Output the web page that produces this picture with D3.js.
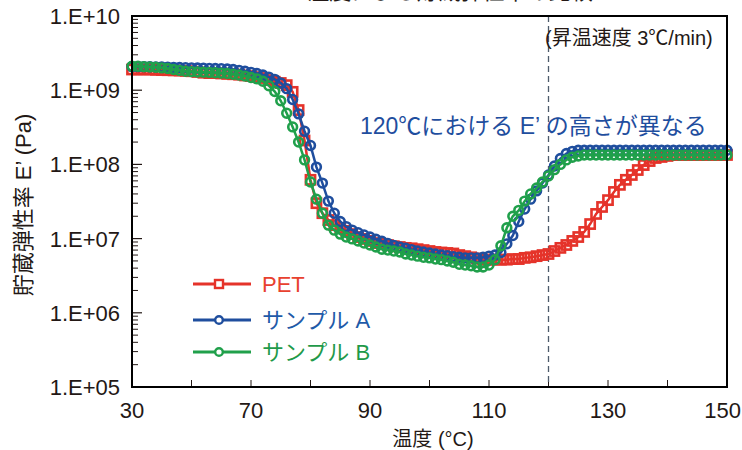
<!DOCTYPE html>
<html><head><meta charset="utf-8">
<script src="https://cdn.jsdelivr.net/npm/d3@7"></script>
<style>
html,body{margin:0;padding:0;background:#fff;}
svg{display:block;font-family:"Liberation Sans","Noto Sans CJK JP",sans-serif;}
</style></head><body>
<svg id="c" width="742" height="450"></svg>
<script>
// ---- data ----
const temps = [30,32,34,36,38,40,42,44,46,48,50,52,54,56,58,60,62,64,66,68,
  70,71,72,73,74,75,76,77,78,79,80,81,82,83,84,85,86,87,88,89,
  90,91,92,93,94,95,96,97,98,99,100,101,102,103,104,105,106,107,108,109,
  110,111,112,113,114,115,116,117,118,119,120,121,122,123,124,125,126,127,128,129,
  130,131,132,133,134,135,136,137,138,139,140,141,142,143,144,145,146,147,148,149,150];
const petValues = [1.9e9,1.9e9,1.9e9,1.9e9,1.88e9,1.87e9,1.86e9,1.85e9,1.84e9,1.82e9,1.8e9,1.76e9,1.72e9,1.7e9,1.7e9,1.68e9,1.66e9,1.64e9,1.62e9,1.58e9,
  1.55e9,1.5e9,1.46e9,1.37e9,1.3e9,1.25e9,1.17e9,9.5e8,5.4e8,2.1e8,
  6.2e7,3.0e7,2.2e7,1.78e7,1.52e7,1.39e7,1.27e7,1.15e7,1.05e7,9.9e6,
  9.3e6,8.7e6,8.5e6,8.2e6,7.9e6,7.7e6,7.5e6,7.4e6,7.2e6,7.0e6,
  6.8e6,6.6e6,6.5e6,6.4e6,6.3e6,6.0e6,5.8e6,5.6e6,5.4e6,5.2e6,
  5.2e6,5.2e6,5.2e6,5.2e6,5.3e6,5.3e6,5.5e6,5.6e6,5.8e6,6.0e6,
  6.2e6,6.8e6,7.5e6,8.2e6,9.3e6,1.05e7,1.23e7,1.57e7,2.15e7,2.67e7,
  3.3e7,4.25e7,5.3e7,6.2e7,7.2e7,8.4e7,9.8e7,1.11e8,1.22e8,1.26e8,
  1.3e8,1.34e8,1.34e8,1.34e8,1.34e8,1.34e8,1.34e8,1.34e8,1.34e8,1.34e8,1.34e8];
const sampleAValues = [2.08e9,2.08e9,2.08e9,2.07e9,2.06e9,2.05e9,2.04e9,2.03e9,2.02e9,2.01e9,2.0e9,1.99e9,1.98e9,1.97e9,1.96e9,1.95e9,1.93e9,1.9e9,1.85e9,1.8e9,
  1.74e9,1.68e9,1.6e9,1.5e9,1.4e9,1.25e9,1.05e9,7.5e8,4.8e8,2.8e8,
  1.8e8,9.2e7,5.6e7,3.2e7,2.2e7,1.7e7,1.45e7,1.3e7,1.2e7,1.12e7,
  1.05e7,9.8e6,9.2e6,8.6e6,8.1e6,7.7e6,7.4e6,7.1e6,6.8e6,6.6e6,
  6.4e6,6.2e6,6.0e6,5.9e6,5.7e6,5.6e6,5.5e6,5.5e6,5.5e6,5.6e6,
  5.8e6,6.0e6,6.5e6,8.5e6,1.1e7,1.7e7,2.5e7,3.4e7,4.4e7,5.6e7,
  7.2e7,9.5e7,1.2e8,1.4e8,1.5e8,1.55e8,1.55e8,1.55e8,1.55e8,1.55e8,
  1.55e8,1.55e8,1.55e8,1.55e8,1.55e8,1.55e8,1.55e8,1.55e8,1.55e8,1.55e8,
  1.55e8,1.55e8,1.55e8,1.55e8,1.55e8,1.55e8,1.55e8,1.55e8,1.55e8,1.55e8,1.55e8];
const sampleBValues = [2.1e9,2.1e9,2.08e9,2.06e9,2.04e9,2.0e9,1.96e9,1.9e9,1.85e9,1.8e9,1.78e9,1.76e9,1.75e9,1.74e9,1.72e9,1.7e9,1.68e9,1.64e9,1.6e9,1.55e9,
  1.48e9,1.42e9,1.32e9,1.15e9,9.6e8,7.2e8,4.9e8,3.2e8,2.0e8,1.15e8,
  5.8e7,3.4e7,2.2e7,1.52e7,1.3e7,1.15e7,1.05e7,9.9e6,9.3e6,8.7e6,
  8.2e6,7.7e6,7.2e6,7.0e6,6.8e6,6.6e6,6.2e6,6.0e6,5.8e6,5.6e6,
  5.5e6,5.3e6,5.2e6,5.0e6,4.8e6,4.5e6,4.4e6,4.3e6,4.15e6,4.15e6,
  4.4e6,5.2e6,8.0e6,1.4e7,2.0e7,2.4e7,3.2e7,4.0e7,4.8e7,5.8e7,
  7.0e7,8.5e7,1.0e8,1.15e8,1.25e8,1.3e8,1.34e8,1.34e8,1.34e8,1.34e8,
  1.34e8,1.34e8,1.34e8,1.34e8,1.34e8,1.34e8,1.34e8,1.34e8,1.34e8,1.34e8,
  1.34e8,1.34e8,1.34e8,1.34e8,1.34e8,1.34e8,1.34e8,1.34e8,1.34e8,1.34e8,1.34e8];
const seriesNames = ["PET","サンプル A","サンプル B"];
const xTickValues = [30,50,70,80,90,100,110,120,130,140,150];
const xTickLabels = ["30","","70","","90","","110","","130","","150"];
const yDecades = [5,6,7,8,9,10];
const markerLine = 120;

// ---- layout ----
const L=132,R=727,T=16,B=387;
const colors = {red:"#e5332a", blue:"#1f4e9e", green:"#20a04b"};
const svg = d3.select("#c");
const x = d3.scaleLinear().domain([30,70,150]).range([L,L+2*59.5,R]);
const y = d3.scaleLog().domain([1e5,1e10]).range([B,T]);

// clipped title at top
svg.append("text").attr("x",450).attr("y",-1.5).attr("text-anchor","middle")
  .attr("font-size",22).attr("font-family","Noto Sans CJK JP").attr("fill","#231815")
  .text("温度による貯蔵弾性率の比較");

// y ticks (inside)
const minor=[];
yDecades.slice(0,-1).forEach(k=>{for(let m=2;m<10;m++) minor.push(m*Math.pow(10,k));});
svg.append("g").selectAll("line.mn").data(minor).join("line")
  .attr("x1",L).attr("x2",L+6).attr("y1",d=>y(d)).attr("y2",d=>y(d))
  .attr("stroke","#231815").attr("stroke-width",1);
svg.append("g").selectAll("line.mj").data(yDecades).join("line")
  .attr("x1",L).attr("x2",L+10).attr("y1",d=>y(Math.pow(10,d))).attr("y2",d=>y(Math.pow(10,d)))
  .attr("stroke","#231815").attr("stroke-width",1.2);
svg.append("g").selectAll("text").data(yDecades).join("text")
  .attr("x",120).attr("y",d=>y(Math.pow(10,d))).attr("dy","0.36em").attr("text-anchor","end")
  .attr("font-size",22).attr("fill","#231815")
  .text(d=>"1.E+"+String(d).padStart(2,"0"));

// x ticks (inside)
svg.append("g").selectAll("line").data(xTickValues).join("line")
  .attr("x1",d=>x(d)).attr("x2",d=>x(d)).attr("y1",B).attr("y2",B-7)
  .attr("stroke","#231815").attr("stroke-width",1);
svg.append("g").selectAll("text").data(xTickValues).join("text")
  .attr("x",d=>d===150 ? 741 : x(d)).attr("y",418)
  .attr("text-anchor",d=>d===150 ? "end" : "middle")
  .attr("font-size",22).attr("fill","#231815")
  .text((d,i)=>xTickLabels[i]);

// axis titles
svg.append("text").attr("x",433).attr("y",446).attr("text-anchor","middle")
  .attr("font-size",20).attr("fill","#231815").text("温度 (°C)");
svg.append("text").attr("transform","translate(31,205) rotate(-90)").attr("text-anchor","middle")
  .attr("font-size",22).attr("fill","#231815").text("貯蔵弾性率 E’ (Pa)");

// dashed marker line at 120
svg.append("line").attr("x1",x(markerLine)).attr("x2",x(markerLine)).attr("y1",T).attr("y2",B)
  .attr("stroke","#4d5a6b").attr("stroke-width",1.3).attr("stroke-dasharray","6,4");

// series
const data = temps.map((t,i)=>({t, pet:petValues[i], a:sampleAValues[i], b:sampleBValues[i]}));
const line = key => d3.line().x(d=>x(d.t)).y(d=>y(d[key]));
function drawSeries(key,color,shape){
  const g = svg.append("g");
  g.append("path").datum(data).attr("d",line(key)).attr("fill","none")
    .attr("stroke",color).attr("stroke-width",2.5);
  if(shape==="square"){
    g.selectAll("rect").data(data).join("rect")
      .attr("x",d=>x(d.t)-4.6).attr("y",d=>y(d[key])-4.6).attr("width",9.2).attr("height",9.2)
      .attr("fill","none").attr("stroke",color).attr("stroke-width",2.6);
  } else {
    g.selectAll("circle").data(data).join("circle")
      .attr("cx",d=>x(d.t)).attr("cy",d=>y(d[key])).attr("r",4.4)
      .attr("fill","none").attr("stroke",color).attr("stroke-width",2.6);
  }
}
drawSeries("pet",colors.red,"square");
drawSeries("a",colors.blue,"circle");
drawSeries("b",colors.green,"circle");

// frame
svg.append("rect").attr("x",L).attr("y",T).attr("width",R-L).attr("height",B-T)
  .attr("fill","none").attr("stroke","#000").attr("stroke-width",2);

// annotations
svg.append("text").attr("x",545).attr("y",45).attr("font-size",20).attr("fill","#231815")
  .text("(昇温速度 3℃/min)");
svg.append("text").attr("x",360).attr("y",134).attr("font-size",23).attr("fill","#1f4e9e")
  .text("120℃における E’ の高さが異なる");

// legend
const legend = [
  {name:seriesNames[0], color:colors.red, shape:"square", y:284, tc:"#e8412f"},
  {name:seriesNames[1], color:colors.blue, shape:"circle", y:320, tc:"#1e5aa8"},
  {name:seriesNames[2], color:colors.green, shape:"circle", y:352, tc:"#1f9a4a"}];
const lg = svg.append("g");
legend.forEach(d=>{
  lg.append("line").attr("x1",193).attr("x2",251).attr("y1",d.y).attr("y2",d.y)
    .attr("stroke",d.color).attr("stroke-width",3);
  if(d.shape==="square") lg.append("rect").attr("x",215).attr("y",d.y-4).attr("width",8).attr("height",8)
      .attr("fill","#fff").attr("stroke",d.color).attr("stroke-width",2.4);
  else lg.append("circle").attr("cx",219).attr("cy",d.y).attr("r",3.8)
      .attr("fill","#fff").attr("stroke",d.color).attr("stroke-width",2.4);
  lg.append("text").attr("x",262).attr("y",d.y).attr("dy","0.36em").attr("font-size",22)
    .attr("fill",d.tc).text(d.name);
});
</script></body></html>
